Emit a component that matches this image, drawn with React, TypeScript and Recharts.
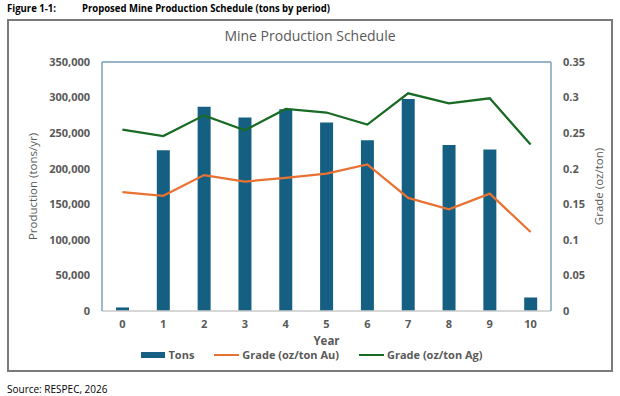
import React from 'react';
import {
  ComposedChart,
  Bar,
  Line,
  XAxis,
  YAxis,
  CartesianGrid,
  Legend,
  ReferenceLine,
} from 'recharts';

// Production schedule by year
const years = ['0', '1', '2', '3', '4', '5', '6', '7', '8', '9', '10'];
const tons = [5000, 226000, 287000, 272000, 283500, 265000, 240000, 298000, 233500, 227000, 19000];
const gradeAu = [0.167, 0.162, 0.191, 0.182, 0.187, 0.193, 0.206, 0.159, 0.143, 0.165, 0.111];
const gradeAg = [0.255, 0.246, 0.275, 0.254, 0.284, 0.279, 0.262, 0.306, 0.292, 0.299, 0.234];

const tonTicks = [0, 50000, 100000, 150000, 200000, 250000, 300000, 350000];
const gradeTicks = [0, 0.05, 0.1, 0.15, 0.2, 0.25, 0.3, 0.35];

const data = years.map((year, i) => ({
  year,
  tons: tons[i],
  au: gradeAu[i],
  ag: gradeAg[i],
}));

const BLUE = '#156082';
const ORANGE = '#E97132';
const GREEN = '#196B24';
const TEXT = '#595959';
const FRAME_BLUE = '#7aa3bd';
const FONT = '"Open Sans", "Liberation Sans", sans-serif';

const tickStyle = { fontSize: 11, fontWeight: 700, fill: TEXT, fontFamily: FONT };

const LeftTitle = (props: any) => {
  const { viewBox } = props;
  const cx = 24;
  const cy = viewBox.y + viewBox.height / 2;
  return (
    <text
      x={cx}
      y={cy}
      transform={`rotate(-90 ${cx} ${cy})`}
      textAnchor="middle"
      dominantBaseline="central"
      fontSize={11.5}
      fill={TEXT}
      fontFamily={FONT}
    >
      Production (tons/yr)
    </text>
  );
};

const RightTitle = (props: any) => {
  const { viewBox } = props;
  const cx = 590;
  const cy = viewBox.y + viewBox.height / 2;
  return (
    <text
      x={cx}
      y={cy}
      transform={`rotate(-90 ${cx} ${cy})`}
      textAnchor="middle"
      dominantBaseline="central"
      fontSize={11.5}
      fill={TEXT}
      fontFamily={FONT}
    >
      Grade (oz/ton)
    </text>
  );
};

const YearLabel = (props: any) => {
  const { viewBox } = props;
  return (
    <text
      x={viewBox.x + viewBox.width / 2}
      y={viewBox.y + 29}
      textAnchor="middle"
      dominantBaseline="central"
      fontSize={11.5}
      fontWeight={700}
      fill={TEXT}
      fontFamily={FONT}
    >
      Year
    </text>
  );
};

const LegendContent = (props: any) => {
  const { payload } = props;
  const order = ['tons', 'au', 'ag'];
  const items = [...(payload || [])].sort(
    (a: any, b: any) => order.indexOf(a.dataKey) - order.indexOf(b.dataKey)
  );
  return (
    <div
      style={{
        display: 'flex',
        justifyContent: 'center',
        alignItems: 'center',
        gap: 20,
        fontFamily: FONT,
        fontSize: 11,
        fontWeight: 700,
        color: TEXT,
        paddingLeft: 4,
      }}
    >
      {items.map((item: any) => (
        <div key={item.dataKey} style={{ display: 'flex', alignItems: 'center' }}>
          {item.type === 'rect' ? (
            <span
              style={{
                display: 'inline-block',
                width: 24,
                height: 6,
                background: item.color,
                marginRight: 3,
              }}
            />
          ) : (
            <span
              style={{
                display: 'inline-block',
                width: 25,
                height: 2,
                background: item.color,
                marginRight: 3,
              }}
            />
          )}
          <span>{item.value}</span>
        </div>
      ))}
    </div>
  );
};

export default function App() {
  return (
    <div style={{ position: 'absolute', left: 0, top: 0, width: 620, height: 396, background: '#fff' }}>
      <svg style={{ position: 'absolute', left: 0, top: 0 }} width={620} height={18}>
        <text
          x={7}
          y={12}
          fontFamily={FONT}
          fontWeight={700}
          fontSize={10}
          fill="#000"
          textLength={49}
          lengthAdjust="spacingAndGlyphs"
        >
          Figure 1-1:
        </text>
        <text
          x={82}
          y={12}
          fontFamily={FONT}
          fontWeight={700}
          fontSize={10}
          fill="#000"
          textLength={248}
          lengthAdjust="spacingAndGlyphs"
        >
          Proposed Mine Production Schedule (tons by period)
        </text>
      </svg>

      <div
        style={{
          position: 'absolute',
          left: 7,
          top: 19,
          width: 602,
          height: 349,
          border: '2px solid #7a7a7a',
        }}
      />

      <div
        style={{
          position: 'absolute',
          left: 0,
          top: 28,
          width: 620,
          textAlign: 'center',
          fontFamily: FONT,
          fontSize: 14,
          color: TEXT,
          lineHeight: '16px',
        }}
      >
        Mine Production Schedule
      </div>

      <div style={{ position: 'absolute', left: 8, top: 20 }}>
        <ComposedChart
          width={604}
          height={351}
          data={data}
          margin={{ top: 42, right: 0, bottom: 6, left: 0 }}
          barCategoryGap="34%"
        >
          <CartesianGrid vertical={false} stroke="#d9d9d9" strokeWidth={1} />
          <XAxis
            dataKey="year"
            height={36}
            tickLine={false}
            tickSize={0}
            tickMargin={9}
            axisLine={{ stroke: '#d0d0d0', strokeWidth: 1.5 }}
            tick={tickStyle}
            label={<YearLabel />}
          />
          <YAxis
            yAxisId="left"
            width={94}
            domain={[0, 350000]}
            ticks={tonTicks}
            tickLine={false}
            tickSize={0}
            tickMargin={12}
            axisLine={{ stroke: FRAME_BLUE, strokeWidth: 1.5 }}
            tick={tickStyle}
            tickFormatter={(v: number) => v.toLocaleString('en-US')}
            label={<LeftTitle />}
          />
          <YAxis
            yAxisId="right"
            orientation="right"
            width={61}
            domain={[0, 0.35]}
            ticks={gradeTicks}
            tickLine={false}
            tickSize={0}
            tickMargin={12}
            axisLine={{ stroke: FRAME_BLUE, strokeWidth: 1.5 }}
            tick={tickStyle}
            tickFormatter={(v: number) => String(Number(v.toFixed(2)))}
            label={<RightTitle />}
          />
          <ReferenceLine yAxisId="left" y={350000} stroke={FRAME_BLUE} strokeWidth={1.5} />
          <Bar
            yAxisId="left"
            dataKey="tons"
            name="Tons"
            fill={BLUE}
            barSize={13}
            legendType="rect"
            isAnimationActive={false}
          />
          <Line
            yAxisId="right"
            dataKey="au"
            name="Grade (oz/ton Au)"
            stroke={ORANGE}
            strokeWidth={2.25}
            dot={false}
            activeDot={false}
            legendType="line"
            isAnimationActive={false}
          />
          <Line
            yAxisId="right"
            dataKey="ag"
            name="Grade (oz/ton Ag)"
            stroke={GREEN}
            strokeWidth={2.25}
            dot={false}
            activeDot={false}
            legendType="line"
            isAnimationActive={false}
          />
          <Legend verticalAlign="bottom" height={18} content={<LegendContent />} />
        </ComposedChart>
      </div>

      <div
        style={{
          position: 'absolute',
          left: 7,
          top: 382,
          fontFamily: FONT,
          fontSize: 10,
          color: '#000',
          lineHeight: '14px',
        }}
      >
        Source: RESPEC, 2026
      </div>
    </div>
  );
}
